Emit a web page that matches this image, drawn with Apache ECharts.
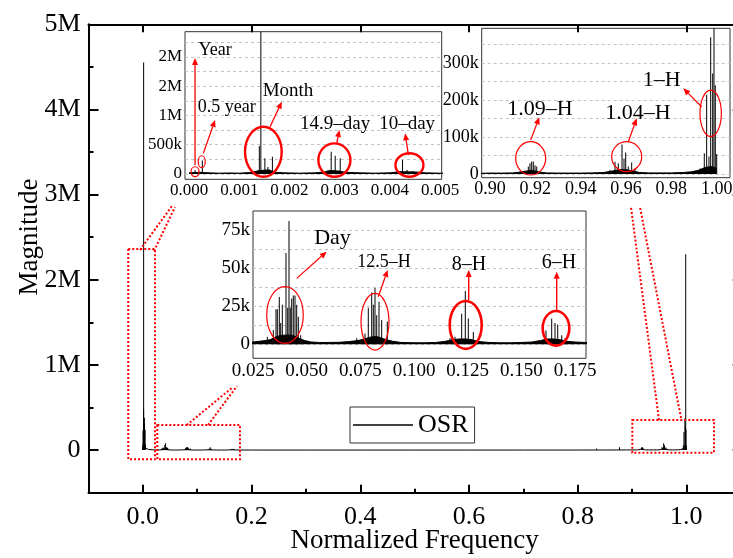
<!DOCTYPE html>
<html>
<head>
<meta charset="utf-8">
<script src="https://cdn.jsdelivr.net/npm/echarts@6/dist/echarts.min.js"></script>
<style>
html, body { margin: 0; padding: 0; background: #fff; }
#chart { width: 733px; height: 558px; }
</style>
</head>
<body>
<div id="chart"></div>
<script>
// ---------- tick values ----------
const mainFreqTicks = [0, 0.2, 0.4, 0.6, 0.8, 1.0];
const mainFreqMinorTicks = [0.1, 0.3, 0.5, 0.7, 0.9];
const mainMagTicks = [0, 1e6, 2e6, 3e6, 4e6, 5e6];
const mainMagMinorTicks = [5e5, 1.5e6, 2.5e6, 3.5e6, 4.5e6];
const lowFreqTicks = [0, 0.001, 0.002, 0.003, 0.004, 0.005];
const lowMagTicks = [0, 5e5, 1e6, 1.5e6, 2e6];
const lowMagGrid = [0, 2.5e5, 5e5, 7.5e5, 1e6, 1.25e6, 1.5e6, 1.75e6, 2e6, 2.25e6];
const midFreqTicks = [0.025, 0.05, 0.075, 0.1, 0.125, 0.15, 0.175];
const midMagTicks = [0, 25000, 50000, 75000];
const midMagGrid = [0, 12500, 25000, 37500, 50000, 62500, 75000];
const highFreqTicks = [0.90, 0.92, 0.94, 0.96, 0.98, 1.00];
const highMagTicks = [0, 100000, 200000, 300000];
const highMagGrid = [0, 50000, 100000, 150000, 200000, 250000, 300000, 350000];

// ---------- spectral lines [normalized frequency, magnitude] ----------
const yearSpikes = [[0.00008, 30000], [0.00012, 70000]];
const halfYearSpikes = [[0.000265, 230000]];
const monthSpikes = [[0.00140, 480000], [0.00143, 4550000], [0.00151, 270000], [0.00157, 120000], [0.00166, 295000]];
const day149Spikes = [[0.00276, 60000], [0.00283, 380000], [0.00291, 310000], [0.00301, 270000]];
const day10Spikes = [[0.00425, 240000], [0.00434, 70000], [0.00446, 50000]];

const daySpikes = [[0.03166, 5000], [0.03446, 9400], [0.03571, 23000], [0.03632, 23000], [0.03725, 31000],
  [0.0379, 14000], [0.03865, 26000], [0.04037, 60000], [0.04116, 24000], [0.04177, 81000], [0.04237, 24000],
  [0.04303, 30000], [0.04377, 32000], [0.04456, 32000], [0.04535, 26000], [0.0461, 18000], [0.04722, 6000]];
const h125Spikes = [[0.0733, 4000], [0.07717, 7000], [0.0787, 24000], [0.08029, 34000], [0.08103, 26000],
  [0.08182, 37000], [0.08262, 19000], [0.08369, 28000], [0.08494, 16000], [0.08755, 15000]];
const h8Spikes = [[0.11676, 4000], [0.11909, 5000], [0.1222, 20000], [0.12388, 35000], [0.12528, 17000], [0.12761, 8000]];
const h6Spikes = [[0.16147, 9000], [0.16412, 17000], [0.16566, 14000], [0.16692, 13000], [0.16878, 6000], [0.17032, 4000]];

const otherSpikes = [[0.835, 20000], [0.877, 35000]];

const h109Spikes = [[0.91323, 6000], [0.9169, 20000], [0.91764, 29000], [0.9184, 34000], [0.9191, 34000],
  [0.91985, 24000], [0.9206, 20000]];
const h104Spikes = [[0.95293, 11000], [0.95514, 33000], [0.9566, 29000], [0.95823, 80000], [0.95911, 42000],
  [0.95986, 58000], [0.961, 20000], [0.9625, 31000], [0.96396, 15000]];
const h1Spikes = [[0.99043, 9000], [0.99263, 15000], [0.99453, 56000], [0.99557, 214000], [0.9966, 47000],
  [0.99735, 370000], [0.99823, 272000], [0.99881, 2300000], [0.99938, 240000], [1.0, 54000]];

// ---------- background level of the spectrum ----------
const lowFloor = [[0, 20000], [0.0002, 30000], [0.0004, 20000], [0.0006, 15000], [0.0008, 18000], [0.001, 15000],
  [0.0012, 25000], [0.0013, 40000], [0.0014, 60000], [0.0016, 70000], [0.0017, 30000], [0.0019, 20000],
  [0.0022, 15000], [0.0025, 20000], [0.0027, 35000], [0.0028, 60000], [0.003, 50000], [0.0031, 30000],
  [0.0034, 20000], [0.0037, 15000], [0.004, 20000], [0.0042, 40000], [0.0045, 35000], [0.0047, 20000], [0.005, 15000]];
const bridgeFloorA = [[0.006, 10000], [0.01, 8000], [0.015, 5000], [0.02, 3000]];
const midFloor = [[0.025, 1500], [0.028, 2000], [0.031, 2500], [0.033, 3000], [0.035, 4500], [0.037, 5500],
  [0.039, 6000], [0.041, 6000], [0.043, 6000], [0.045, 5000], [0.047, 3500], [0.049, 2500], [0.052, 1500],
  [0.056, 1200], [0.06, 1200], [0.065, 1300], [0.07, 1800], [0.074, 2500], [0.077, 3500], [0.079, 4500],
  [0.081, 5000], [0.083, 5000], [0.085, 4000], [0.087, 3000], [0.09, 2000], [0.094, 1200], [0.1, 1000],
  [0.105, 1000], [0.11, 1200], [0.114, 1800], [0.118, 3000], [0.121, 3500], [0.124, 3500], [0.127, 3000],
  [0.13, 1800], [0.135, 1200], [0.14, 1000], [0.145, 1000], [0.15, 1200], [0.155, 1500], [0.159, 2500],
  [0.162, 3500], [0.165, 3500], [0.168, 3000], [0.171, 2000], [0.175, 1500], [0.18, 1200]];
const bridgeFloorB = [[0.2, 1000], [0.3, 800], [0.4, 800], [0.5, 800], [0.6, 800], [0.7, 900], [0.8, 1000],
  [0.85, 1500], [0.89, 2000]];
const highFloor = [[0.896, 2000], [0.9, 2500], [0.905, 2500], [0.91, 3000], [0.913, 5000], [0.916, 8000],
  [0.918, 10000], [0.92, 8000], [0.922, 5000], [0.925, 3000], [0.93, 2500], [0.935, 2500], [0.94, 2500],
  [0.945, 3000], [0.95, 4000], [0.954, 8000], [0.957, 12000], [0.96, 12000], [0.963, 8000], [0.966, 4000],
  [0.97, 3000], [0.975, 3000], [0.98, 3000], [0.985, 4000], [0.989, 6000], [0.992, 10000], [0.995, 18000],
  [0.998, 20000], [1.0, 15000]];

// ---------- assembled series data ----------
const allSpikes = [].concat(yearSpikes, halfYearSpikes, monthSpikes, day149Spikes, day10Spikes,
  daySpikes, h125Spikes, h8Spikes, h6Spikes, otherSpikes, h109Spikes, h104Spikes, h1Spikes)
  .sort((a, b) => a[0] - b[0]);
const allFloor = [].concat(lowFloor, bridgeFloorA, midFloor, bridgeFloorB, highFloor).sort((a, b) => a[0] - b[0]);
const inRange = (arr, lo, hi) => arr.filter(p => p[0] >= lo && p[0] <= hi);

const LOW = [-0.00008, 0.00503], MID = [0.025, 0.1801], HIGH = [0.89634, 1.00587];

const SERIF = '"Liberation Serif", "Times New Roman", serif';
const BLACK = '#000';
const RED = '#ff0000';

function magLabel(v) {
  if (v === 0) return '0';
  if (Math.abs(v) >= 1e6) return (v / 1e6).toFixed(0) + 'M';
  return (v / 1e3).toFixed(0) + 'k';
}

const chart = echarts.init(document.getElementById('chart'), null, { renderer: 'canvas' });

const gridFrame = { show: true, backgroundColor: '#fff', borderColor: '#333', borderWidth: 1, outerBoundsMode: 'none' };
const dashed = { show: true, lineStyle: { color: '#c4c4c4', type: [3, 3], width: 1 } };
const frameLine = { show: true, onZero: false, lineStyle: { color: BLACK, width: 2 } };
const noLine = { show: false, onZero: false };

function insetX(grid, range, ticks, digits, size) {
  return {
    type: 'value', gridIndex: grid, min: range[0], max: range[1], position: 'bottom',
    axisLine: noLine, splitLine: { show: false },
    axisTick: { show: false, customValues: ticks },
    axisLabel: { customValues: ticks, color: BLACK, fontFamily: SERIF, fontSize: size, margin: 3,
      formatter: v => v.toFixed(digits) }
  };
}
function insetY(grid, min, max, labels, lines, size) {
  return {
    type: 'value', gridIndex: grid, min: min, max: max, position: 'left',
    axisLine: noLine,
    axisTick: { show: false, customValues: lines },
    splitLine: dashed,
    axisLabel: { customValues: labels, color: BLACK, fontFamily: SERIF, fontSize: size, margin: 3, formatter: magLabel }
  };
}
function mainX(position, ticks, len, line, labels) {
  return {
    type: 'value', gridIndex: 0, min: -0.1, max: 1.1, position: position,
    axisLine: line ? frameLine : noLine,
    axisTick: { show: true, inside: true, length: len, lineStyle: { width: 2, color: BLACK }, customValues: ticks },
    axisLabel: labels ? { customValues: ticks, color: BLACK, fontFamily: SERIF, fontSize: 26, margin: 11,
      formatter: v => v.toFixed(1) } : { show: false },
    splitLine: { show: false }
  };
}
function mainY(position, ticks, len, line, labels) {
  return {
    type: 'value', gridIndex: 0, min: -5e5, max: 5e6, position: position,
    axisLine: line ? frameLine : noLine,
    axisTick: { show: true, inside: true, length: len, lineStyle: { width: 2, color: BLACK }, customValues: ticks },
    axisLabel: labels ? { customValues: ticks, color: BLACK, fontFamily: SERIF, fontSize: 26, margin: 8,
      formatter: magLabel } : { show: false },
    splitLine: { show: false }
  };
}

const bottomAxis = mainX('bottom', mainFreqTicks, 8, true, true);
bottomAxis.name = 'Normalized Frequency';
bottomAxis.nameLocation = 'middle';
bottomAxis.nameGap = 35;
bottomAxis.nameMoveOverlap = false;
bottomAxis.nameTextStyle = { fontFamily: SERIF, fontSize: 27, color: BLACK };

function floorSeries(xi, data, width) {
  return { type: 'line', xAxisIndex: xi, yAxisIndex: xi, data: data, symbol: 'none',
    lineStyle: { color: BLACK, width: width }, areaStyle: { color: BLACK, opacity: 1 }, clip: true };
}
function spikeSeries(xi, data) {
  return { type: 'bar', xAxisIndex: xi, yAxisIndex: xi, data: data, barWidth: 1,
    itemStyle: { color: BLACK }, clip: true };
}

const option = {
  animation: false,
  backgroundColor: '#fff',
  grid: [
    { left: 88.5, top: 24.3, width: 652.2, height: 468.4, show: false, outerBoundsMode: 'none' },
    Object.assign({ left: 185, top: 31.7, width: 256.7, height: 147.6 }, gridFrame),
    Object.assign({ left: 253, top: 211, width: 333, height: 147.3 }, gridFrame),
    Object.assign({ left: 481.7, top: 28.3, width: 248.3, height: 149.4 }, gridFrame)
  ],
  legend: {
    data: [{ name: 'OSR', icon: 'rect' }], left: 350, top: 407, orient: 'horizontal',
    backgroundColor: '#fff', borderColor: '#333', borderWidth: 1, padding: [5, 6, 5, 3],
    itemWidth: 60, itemHeight: 1.3,
    textStyle: { fontFamily: SERIF, fontSize: 26, color: BLACK }
  },
  xAxis: [
    bottomAxis,
    mainX('bottom', mainFreqMinorTicks, 4, false, false),
    mainX('top', mainFreqTicks, 8, true, false),
    insetX(1, LOW, lowFreqTicks, 3, 17),
    insetX(2, MID, midFreqTicks, 3, 19),
    insetX(3, HIGH, highFreqTicks, 2, 18)
  ],
  yAxis: [
    mainY('left', mainMagTicks, 10, true, true),
    mainY('left', mainMagMinorTicks, 5, false, false),
    mainY('right', mainMagTicks, 8, true, false),
    insetY(1, -90000, 2430000, lowMagTicks, lowMagGrid, 17),
    insetY(2, -9200, 87500, midMagTicks, midMagGrid, 19),
    insetY(3, -10000, 394000, highMagTicks, highMagGrid, 18)
  ],
  series: [
    { name: 'OSR', type: 'line', xAxisIndex: 0, yAxisIndex: 0, data: allFloor, symbol: 'none',
      lineStyle: { color: BLACK, width: 1 }, itemStyle: { color: BLACK }, clip: true },
    { name: 'OSR', type: 'bar', xAxisIndex: 0, yAxisIndex: 0, data: allSpikes, barWidth: 1,
      itemStyle: { color: BLACK }, clip: true },

    floorSeries(3, inRange(allFloor, -1, 0.0065), 1),
    spikeSeries(3, inRange(allSpikes, LOW[0], LOW[1])),
    floorSeries(4, inRange(allFloor, 0.02, 0.2), 1),
    spikeSeries(4, inRange(allSpikes, MID[0], MID[1])),
    floorSeries(5, inRange(allFloor, 0.89, 1.0), 1),
    spikeSeries(5, inRange(allSpikes, HIGH[0], HIGH[1]))
  ]
};
chart.setOption(option);

// ---------- annotations (placed in each panel's own data coordinates) ----------
// ellipse: [grid, centre f, centre magnitude, half-width f, half-height magnitude, stroke width]
const ellipseNotes = [
  [1, 0.00012, 39000, 0.00008, 85000, 1.2],
  [1, 0.000253, 210000, 0.00007, 102000, 1.2],
  [1, 0.00148, 380000, 0.000365, 427000, 2.4],
  [1, 0.002894, 239000, 0.000319, 285000, 2.4],
  [1, 0.004388, 154000, 0.000279, 200000, 2.4],
  [2, 0.0399, 19200, 0.00852, 18600, 1.2],
  [2, 0.08182, 14800, 0.00652, 18600, 1.2],
  [2, 0.12407, 12700, 0.00745, 15700, 2.6],
  [2, 0.16613, 10500, 0.0062, 11350, 2.6],
  [3, 0.91795, 42400, 0.00662, 45100, 1.2],
  [3, 0.9603, 46800, 0.00662, 40500, 1.2],
  [3, 0.99735, 164000, 0.00472, 63000, 1.2]
];
// arrow: [grid, from f, from magnitude, to f, to magnitude, stroke width]
const arrowNotes = [
  [1, 0.00012, 154000, 0.00012, 1980000, 1.3],
  [1, 0.000285, 353000, 0.000518, 922000, 1.3],
  [1, 0.001614, 807000, 0.001847, 1234000, 1.3],
  [1, 0.002942, 534000, 0.002994, 751000, 1.3],
  [1, 0.004368, 324000, 0.004302, 695000, 1.3],
  [2, 0.04535, 43300, 0.05933, 60800, 1.2],
  [2, 0.08336, 31200, 0.08774, 48800, 1.2],
  [2, 0.12547, 29100, 0.12547, 48800, 1.4],
  [2, 0.16645, 22500, 0.16645, 47600, 1.4],
  [3, 0.91795, 91900, 0.92175, 153200, 1.2],
  [3, 0.961, 87300, 0.96471, 150500, 1.2],
  [3, 0.99338, 181900, 0.98527, 231600, 1.2]
];
// label: [grid, centre f, centre magnitude, text, font size]
const textNotes = [
  [1, 0.00052, 2116000, 'Year', 18],
  [1, 0.00075, 1135000, '0.5 year', 18],
  [1, 0.00197, 1425000, 'Month', 19],
  [1, 0.002908, 853000, '14.9\u2013day', 19],
  [1, 0.004342, 853000, '10\u2013day', 19],
  [2, 0.06203, 69800, 'Day', 22],
  [2, 0.08601, 54000, '12.5\u2013H', 18],
  [2, 0.1256, 52000, '8\u2013H', 20],
  [2, 0.16752, 53300, '6\u2013H', 20],
  [3, 0.92206, 175700, '1.09\u2013H', 22],
  [3, 0.96529, 164900, '1.04\u2013H', 22],
  [3, 0.97574, 254000, '1\u2013H', 22]
];
// zoom boxes on the main panel: [f0, f1, magnitude0, magnitude1]
const zoomBoxes = [
  [-0.0268, 0.0224, -108000, 2361000],
  [0.0266, 0.1787, -108000, 295000],
  [0.9006, 1.0509, -31000, 353000]
];
// zoom leader lines on the main panel: [f0, magnitude0, f1, magnitude1]
const zoomLeaders = [
  [-0.0052, 2350000, 0.0536, 2867000],
  [0.0205, 2338000, 0.0592, 2855000],
  [0.0807, 294800, 0.1659, 741000],
  [0.1199, 294800, 0.1732, 752800],
  [0.9497, 353400, 0.8982, 2852000],
  [0.9902, 376900, 0.9147, 2852000]
];

function toPx(g, p) { return chart.convertToPixel({ gridIndex: g }, p); }
const els = [];
zoomBoxes.forEach(([f0, f1, m0, m1]) => {
  const a = toPx(0, [f0, m1]), b = toPx(0, [f1, m0]);
  els.push({ type: 'rect', z: 50, shape: { x: a[0], y: a[1], width: b[0] - a[0], height: b[1] - a[1] },
    style: { fill: 'none', stroke: RED, lineWidth: 2, lineDash: [2, 2] } });
});
zoomLeaders.forEach(([f0, m0, f1, m1]) => {
  const a = toPx(0, [f0, m0]), b = toPx(0, [f1, m1]);
  els.push({ type: 'line', z: 50, shape: { x1: a[0], y1: a[1], x2: b[0], y2: b[1] },
    style: { stroke: RED, lineWidth: 2, lineDash: [2, 2] } });
});
ellipseNotes.forEach(([g, cx, cy, dx, dy, w]) => {
  const c = toPx(g, [cx, cy]), e = toPx(g, [cx + dx, cy + dy]);
  els.push({ type: 'ellipse', z: 60, shape: { cx: c[0], cy: c[1], rx: Math.abs(e[0] - c[0]), ry: Math.abs(e[1] - c[1]) },
    style: { fill: 'none', stroke: RED, lineWidth: w } });
});
arrowNotes.forEach(([g, x0, y0, x1, y1, w]) => {
  const a = toPx(g, [x0, y0]), b = toPx(g, [x1, y1]);
  const ang = Math.atan2(b[1] - a[1], b[0] - a[0]);
  const L = 7, H = 3;
  const bx = b[0] - L * Math.cos(ang), by = b[1] - L * Math.sin(ang);
  els.push({ type: 'line', z: 60, shape: { x1: a[0], y1: a[1], x2: bx, y2: by }, style: { stroke: RED, lineWidth: w } });
  els.push({ type: 'polygon', z: 60, shape: { points: [[b[0], b[1]],
    [bx + H * Math.sin(ang), by - H * Math.cos(ang)], [bx - H * Math.sin(ang), by + H * Math.cos(ang)]] },
    style: { fill: RED } });
});
textNotes.forEach(([g, x, y, t, size]) => {
  const p = toPx(g, [x, y]);
  els.push({ type: 'text', z: 70, x: p[0], y: p[1],
    style: { text: t, fill: BLACK, font: size + 'px ' + SERIF, align: 'center', verticalAlign: 'middle' } });
});
els.push({ type: 'text', z: 70, x: 30, y: 237, rotation: Math.PI / 2,
  style: { text: 'Magnitude', fill: BLACK, font: '27px ' + SERIF, align: 'center', verticalAlign: 'middle' } });

chart.setOption({ graphic: els });
</script>
</body>
</html>
